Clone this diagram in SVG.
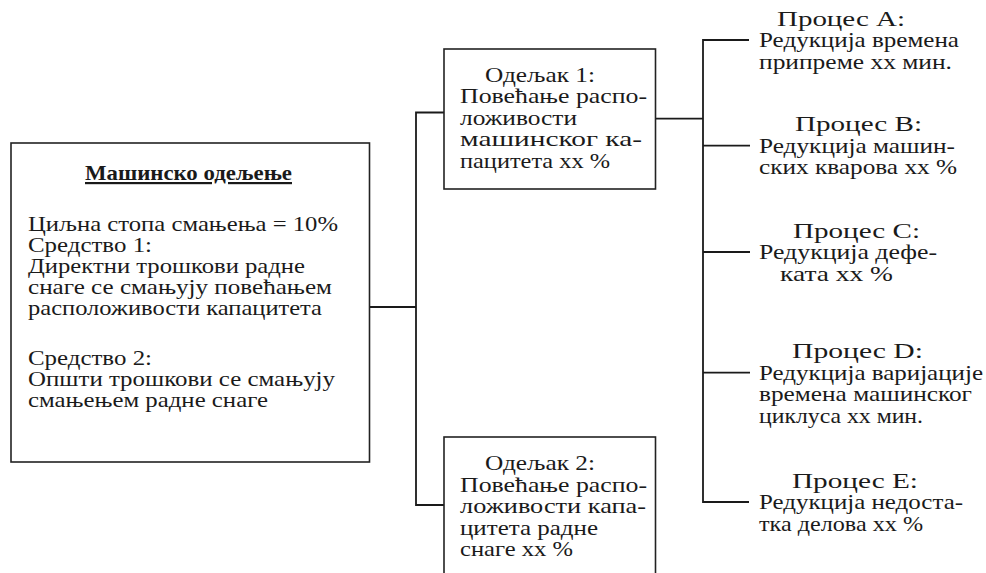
<svg xmlns="http://www.w3.org/2000/svg" width="986" height="573" viewBox="0 0 986 573">
<style>
  .box { fill: #fff; stroke: #222; stroke-width: 1.6; }
  .conn { fill: none; stroke: #1a1a1a; stroke-width: 1.8; }
  text { font-family: "Liberation Serif", "Times New Roman", serif; font-size: 22px; fill: #1a1a1a; }
  .title { font-weight: bold; text-decoration: underline; }
</style>
<rect width="986" height="573" fill="#fff"/>
<g id="connectors">
  <polyline class="conn" points="370,307 416,307"/>
  <polyline class="conn" points="444,112.5 416,112.5 416,505 444,505"/>
  <polyline class="conn" points="656,118.7 703,118.7"/>
  <polyline class="conn" points="749,40 703,40 703,502 749,502"/>
  <line class="conn" x1="703" y1="145.7" x2="750" y2="145.7"/>
  <line class="conn" x1="703" y1="252" x2="750" y2="252"/>
  <line class="conn" x1="703" y1="372.7" x2="750" y2="372.7"/>
</g>
<g id="main">
  <rect class="box" x="11" y="143" width="358.5" height="319"/>
  <text class="title" x="85" y="180" textLength="207" lengthAdjust="spacingAndGlyphs">Машинско одељење</text>
  <text x="28" y="230.7" textLength="310" lengthAdjust="spacingAndGlyphs">Циљна стопа смањења = 10%</text>
  <text x="28" y="251.7" textLength="124" lengthAdjust="spacingAndGlyphs">Средство 1:</text>
  <text x="28" y="272.7" textLength="277" lengthAdjust="spacingAndGlyphs">Директни трошкови радне</text>
  <text x="28" y="294" textLength="304" lengthAdjust="spacingAndGlyphs">снаге се смањују повећањем</text>
  <text x="28" y="315" textLength="294" lengthAdjust="spacingAndGlyphs">расположивости капацитета</text>
  <text x="28" y="365" textLength="124" lengthAdjust="spacingAndGlyphs">Средство 2:</text>
  <text x="28" y="386" textLength="307" lengthAdjust="spacingAndGlyphs">Општи трошкови се смањују</text>
  <text x="28" y="406.7" textLength="240" lengthAdjust="spacingAndGlyphs">смањењем радне снаге</text>
</g>
<g id="odeljak1">
  <rect class="box" x="444" y="49" width="211.5" height="140"/>
  <text x="485" y="81.7" textLength="110" lengthAdjust="spacingAndGlyphs">Одељак 1:</text>
  <text x="460" y="103.2" textLength="187" lengthAdjust="spacingAndGlyphs">Повећање распо-</text>
  <text x="460" y="124.7" textLength="117" lengthAdjust="spacingAndGlyphs">ложивости</text>
  <text x="460" y="146.2" textLength="182" lengthAdjust="spacingAndGlyphs">машинског ка-</text>
  <text x="460" y="167.7" textLength="150" lengthAdjust="spacingAndGlyphs">пацитета xx %</text>
</g>
<g id="odeljak2">
  <rect class="box" x="444" y="437" width="211.5" height="150"/>
  <text x="485" y="470" textLength="110" lengthAdjust="spacingAndGlyphs">Одељак 2:</text>
  <text x="460" y="491.5" textLength="187" lengthAdjust="spacingAndGlyphs">Повећање распо-</text>
  <text x="460" y="513" textLength="186" lengthAdjust="spacingAndGlyphs">ложивости капа-</text>
  <text x="460" y="534.5" textLength="138" lengthAdjust="spacingAndGlyphs">цитета радне</text>
  <text x="460" y="556" textLength="113" lengthAdjust="spacingAndGlyphs">снаге xx %</text>
</g>
<g id="procesA">
  <text x="777" y="25.5" textLength="128" lengthAdjust="spacingAndGlyphs">Процес A:</text>
  <text x="759" y="47" textLength="200" lengthAdjust="spacingAndGlyphs">Редукција времена</text>
  <text x="759" y="68.5" textLength="193" lengthAdjust="spacingAndGlyphs">припреме xx мин.</text>
</g>
<g id="procesB">
  <text x="795" y="131" textLength="127" lengthAdjust="spacingAndGlyphs">Процес B:</text>
  <text x="759" y="152.7" textLength="196" lengthAdjust="spacingAndGlyphs">Редукција машин-</text>
  <text x="759" y="174" textLength="198" lengthAdjust="spacingAndGlyphs">ских кварова xx %</text>
</g>
<g id="procesC">
  <text x="793" y="237.5" textLength="127" lengthAdjust="spacingAndGlyphs">Процес C:</text>
  <text x="759" y="259" textLength="178" lengthAdjust="spacingAndGlyphs">Редукција дефе-</text>
  <text x="780" y="280.5" textLength="113" lengthAdjust="spacingAndGlyphs">ката xx %</text>
</g>
<g id="procesD">
  <text x="792" y="358" textLength="131" lengthAdjust="spacingAndGlyphs">Процес D:</text>
  <text x="759" y="379.7" textLength="224" lengthAdjust="spacingAndGlyphs">Редукција варијације</text>
  <text x="759" y="401" textLength="213" lengthAdjust="spacingAndGlyphs">времена машинског</text>
  <text x="759" y="422.5" textLength="164" lengthAdjust="spacingAndGlyphs">циклуса xx мин.</text>
</g>
<g id="procesE">
  <text x="792" y="487.5" textLength="126" lengthAdjust="spacingAndGlyphs">Процес E:</text>
  <text x="759" y="509" textLength="204" lengthAdjust="spacingAndGlyphs">Редукција недоста-</text>
  <text x="759" y="530.5" textLength="164" lengthAdjust="spacingAndGlyphs">тка делова xx %</text>
</g>
</svg>
